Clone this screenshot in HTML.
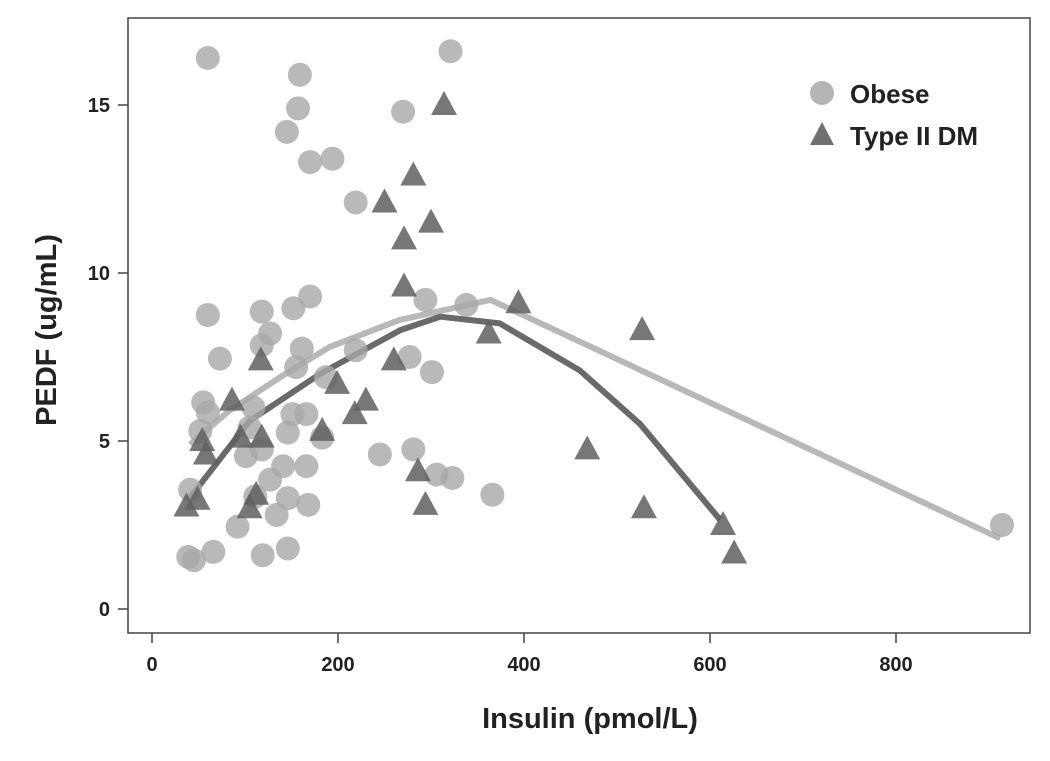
<!DOCTYPE html>
<html><head><meta charset="utf-8"><style>
body{margin:0;background:#fff;}
svg text{font-family:"Liberation Sans",Arial,sans-serif;font-weight:bold;fill:#222;}
</style></head><body>
<svg id="chart" width="1050" height="756">
<rect x="128" y="18" width="902" height="615" fill="#fff" stroke="#444" stroke-width="1.5"/>
<g id="axes"></g><g id="fits"></g><g id="marks"></g>
<g>
<circle cx="822" cy="93" r="12" fill="#b5b5b5"/>
<text x="850" y="103" font-size="26">Obese</text>
<polygon points="822,122 834,145 810,145" fill="#707070"/>
<text x="850" y="145" font-size="26">Type II DM</text>
</g>
<text x="590" y="728" font-size="29" text-anchor="middle">Insulin (pmol/L)</text>
<text transform="translate(56,330) rotate(-90)" font-size="29" text-anchor="middle">PEDF (ug/mL)</text>
</svg>
<script>
const xTicks=[0,200,400,600,800];
const yTicks=[0,5,10,15];
const obeseX=[60,321,159,157,145,270,170,194,219,60,118,152,170,73,127,118,161,155,294,338,219,277,187,55,60,52,109,105,118,101,151,166,146,183,141,166,245,281,306,323,366,41,39,45,66,92,111,127,119,146,146,134,168,914,301];
const obeseY=[16.4,16.6,15.9,14.9,14.2,14.8,13.3,13.4,12.1,8.75,8.85,8.95,9.3,7.45,8.2,7.85,7.75,7.2,9.2,9.05,7.7,7.5,6.9,6.15,5.85,5.3,6.0,5.4,4.75,4.55,5.8,5.8,5.25,5.1,4.25,4.25,4.6,4.75,4.0,3.9,3.4,3.55,1.55,1.45,1.7,2.45,3.35,3.85,1.6,1.8,3.3,2.8,3.1,2.5,7.05];
const dmX=[314,281,250,271,300,271,394,527,362,117,260,86,230,199,218,183,54,58,95,118,468,286,294,529,37,49,105,112,614,626];
const dmY=[15.0,12.9,12.1,11.0,11.5,9.6,9.1,8.3,8.2,7.4,7.4,6.2,6.2,6.7,5.8,5.3,5.0,4.6,5.1,5.1,4.75,4.1,3.1,3.0,3.05,3.25,3.0,3.4,2.5,1.65];
const obeseFitX=[41,83,138,191,266,364,912];
const obeseFitY=[4.9,5.9,6.9,7.8,8.6,9.2,2.1];
const dmFitX=[39,105,181,267,310,374,460,525,611];
const dmFitY=[3.25,5.6,7.0,8.3,8.7,8.5,7.1,5.5,2.65];
const sx=v=>152+v*0.93, sy=v=>609-v*33.6;
const NS='http://www.w3.org/2000/svg';
function mk(tag,attrs,parent){const e=document.createElementNS(NS,tag);for(const k in attrs)e.setAttribute(k,attrs[k]);parent.appendChild(e);return e;}
const ax=document.getElementById('axes');
xTicks.forEach(t=>{
 const l=mk('line',{x1:sx(t),x2:sx(t),y1:633,y2:643,stroke:'#444','stroke-width':1.5},ax);
 
 
 const tx=mk('text',{x:sx(t),y:671,'font-size':20,'text-anchor':'middle'},ax);tx.textContent=t;
 
 
});
yTicks.forEach(t=>{
 const l=mk('line',{x1:118,x2:128,y1:sy(t),y2:sy(t),stroke:'#444','stroke-width':1.5},ax);
 
 
 const tx=mk('text',{x:110,y:sy(t)+7,'font-size':20,'text-anchor':'end'},ax);tx.textContent=t;
 
 
});
const mg=document.getElementById('marks');
obeseX.forEach((x,i)=>{
 const c=mk('circle',{cx:sx(x),cy:sy(obeseY[i]),r:12,fill:'#a8a8a8','fill-opacity':0.8},mg);
 
 
});
dmX.forEach((x,i)=>{
 const px=sx(x),py=sy(dmY[i]);
 const p=mk('polygon',{points:`${px},${py-14} ${px+13},${py+10} ${px-13},${py+10}`,fill:'#5f5f5f','fill-opacity':0.85},mg);
 
 
});
const fg=document.getElementById('fits');
const f1=mk('polyline',{points:obeseFitX.map((x,i)=>sx(x)+','+sy(obeseFitY[i])).join(' '),fill:'none',stroke:'#b8b8b8','stroke-width':6,'stroke-linejoin':'round'},fg);


const f2=mk('polyline',{points:dmFitX.map((x,i)=>sx(x)+','+sy(dmFitY[i])).join(' '),fill:'none',stroke:'#6a6a6a','stroke-width':6,'stroke-linejoin':'round'},fg);


</script>
</body></html>
